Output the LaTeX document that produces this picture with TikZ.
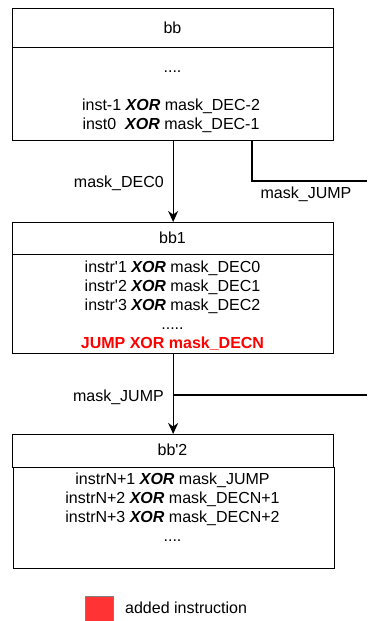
\documentclass[tikz,border=0pt]{standalone}
\usepackage{fontspec}
\setmainfont{Liberation Sans}
\usetikzlibrary{arrows.meta}
\definecolor{addred}{RGB}{255,51,51}
\definecolor{jred}{RGB}{255,0,0}
\begin{document}
\begin{tikzpicture}[x=1pt,y=-1pt,
  box/.style={draw=black, line width=1.3pt, anchor=north west, inner sep=0pt, minimum width=321pt},
  txt/.style={anchor=base, inner sep=0pt, font=\fontsize{16}{19}\selectfont},
  lbl/.style={anchor=base east, inner sep=0pt, font=\fontsize{16}{19}\selectfont},
  conn/.style={draw=black, line width=1.3pt},
  arr/.style={conn, -{Stealth[length=11pt,width=10pt,inset=3.5pt]}}]
\useasboundingbox (0,0) rectangle (367,621);
\newcommand{\xr}{\textbf{\textit{XOR}}}
\newcommand{\q}{\textquotesingle}
% bb
\node[box, minimum height=39pt] (bbh) at (12,8) {};
\node[box, minimum height=93pt] (bbb) at (12,47) {};
\node[txt] (t0) at (172.5,33) {bb};
\node[txt] (t1) at (172.5,72) {....};
\node[txt] (t2) at (171,110) {inst-1 \xr{} mask\_DEC-2};
\node[txt] (t3) at (171,129) {inst0~ \xr{} mask\_DEC-1};
% bb1
\node[box, minimum height=32pt] (bb1h) at (12,222) {};
\node[box, minimum height=99pt] (bb1b) at (12,254) {};
\node[txt] (u0) at (172.5,243) {bb1};
\node[txt] (u1) at (172.5,272) {instr\q1 \xr{} mask\_DEC0};
\node[txt] (u2) at (172.5,291) {instr\q2 \xr{} mask\_DEC1};
\node[txt] (u3) at (172.5,310) {instr\q3 \xr{} mask\_DEC2};
\node[txt] (u4) at (172.5,329) {.....};
\node[txt, text=jred] (u5) at (172.5,348) {\textbf{JUMP XOR mask\_DECN}};
% bb'2
\node[box, minimum height=33pt] (bb2h) at (12,434) {};
\node[box, minimum height=101pt] (bb2b) at (13,467) {};
\node[txt] (v0) at (172.5,455) {bb\q2};
\node[txt] (v1) at (172.5,484) {instrN+1 \xr{} mask\_JUMP};
\node[txt] (v2) at (172.5,503) {instrN+2 \xr{} mask\_DECN+1};
\node[txt] (v3) at (172.5,522) {instrN+3 \xr{} mask\_DECN+2};
\node[txt] (v4) at (172.5,541) {....};
% connectors
\draw[arr] (bbb.south) -- (bb1h.north);
\node[lbl] (l1) at (164,187) {mask\_DEC0};
\coordinate (jx) at (252,0);
\coordinate (j1) at (367,181);
\draw[conn] (bbb.south -| jx) |- (j1);
\node[txt] (l2) at (306,198) {mask\_JUMP};
\draw[arr] (bb1b.south) -- (bb2h.north);
\coordinate (j2) at (367,395);
\draw[conn] (bb1b.south |- j2) -- (j2);
\node[lbl] (l3) at (164,401) {mask\_JUMP};
% legend
\node[draw=gray, line width=1pt, fill=addred, minimum width=28pt, minimum height=27pt, anchor=north west, inner sep=0pt] (leg) at (84.5,595.5) {};
\node[anchor=base west, inner sep=0pt, font=\fontsize{16}{19}\selectfont] (legt) at (125,613) {added instruction};
\end{tikzpicture}
\end{document}
